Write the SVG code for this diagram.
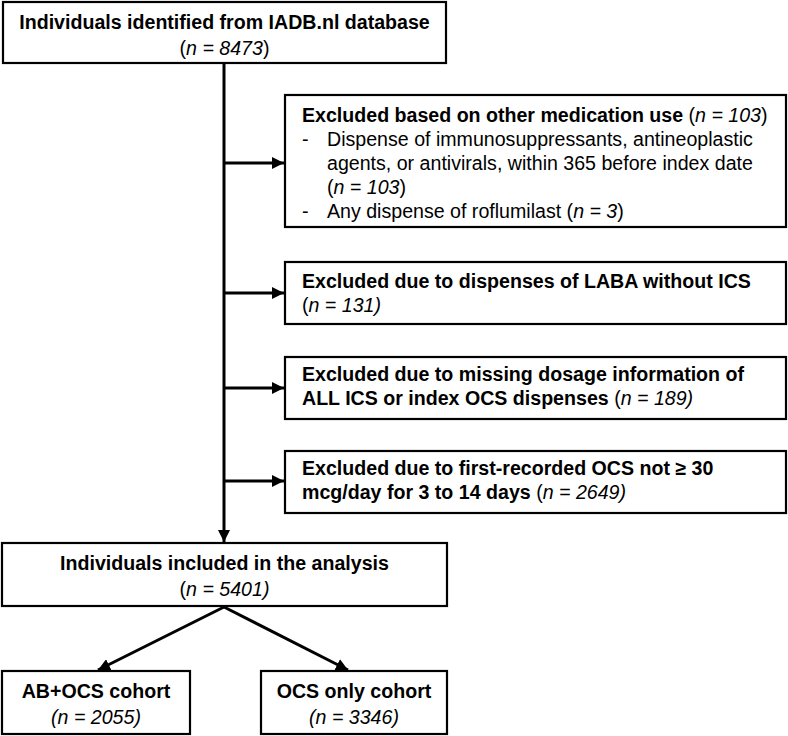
<svg xmlns="http://www.w3.org/2000/svg" width="788" height="736" viewBox="0 0 788 736">
<style>
.box{fill:#fff;stroke:#000;stroke-width:2.2}
.t{font-family:"Liberation Sans",Arial,sans-serif;font-size:19.6px;fill:#000}
.b{font-weight:bold}
.i{font-style:italic}
.c{text-anchor:middle}
.ln{stroke:#000;stroke-width:3;fill:none}
</style>
<defs>
<marker id="ah" viewBox="0 0 10 10" refX="10" refY="5" markerWidth="4" markerHeight="4" markerUnits="strokeWidth" orient="auto">
<path d="M0,0 L10,5 L0,10 Z" fill="#000"/>
</marker>
</defs>
<rect width="788" height="736" fill="#fff"/>
<g id="connectors">
<line class="ln" x1="224" y1="63" x2="224" y2="542" marker-end="url(#ah)"/>
<line class="ln" x1="224" y1="163" x2="284" y2="163" marker-end="url(#ah)"/>
<line class="ln" x1="224" y1="293" x2="284" y2="293" marker-end="url(#ah)"/>
<line class="ln" x1="224" y1="388" x2="284" y2="388" marker-end="url(#ah)"/>
<line class="ln" x1="224" y1="481" x2="284" y2="481" marker-end="url(#ah)"/>
<line class="ln" x1="224" y1="607" x2="98" y2="670" marker-end="url(#ah)"/>
<line class="ln" x1="224" y1="607" x2="348" y2="670" marker-end="url(#ah)"/>
</g>
<g id="n_identified">
<rect class="box" x="3" y="2" width="443" height="61"/>
<text class="t b c" x="224.5" y="29">Individuals identified from IADB.nl database</text>
<text class="t c" x="224.5" y="55">(<tspan class="i">n = 8473</tspan>)</text>
</g>
<g id="n_excl_medication">
<rect class="box" x="285" y="95" width="501" height="132"/>
<text class="t" x="302" y="122"><tspan class="b">Excluded based on other medication use</tspan> (<tspan class="i">n = 103</tspan>)</text>
<text class="t" x="302" y="146">-</text>
<text class="t" x="327" y="146">Dispense of immunosuppressants, antineoplastic</text>
<text class="t" x="327" y="170">agents, or antivirals, within 365 before index date</text>
<text class="t" x="327" y="194">(<tspan class="i">n = 103</tspan>)</text>
<text class="t" x="302" y="218">-</text>
<text class="t" x="327" y="218">Any dispense of roflumilast (<tspan class="i">n = 3</tspan>)</text>
</g>
<g id="n_excl_laba">
<rect class="box" x="285" y="262" width="501" height="62"/>
<text class="t b" x="302" y="288">Excluded due to dispenses of LABA without ICS</text>
<text class="t" x="302" y="312">(<tspan class="i">n = 131)</tspan></text>
</g>
<g id="n_excl_dosage">
<rect class="box" x="285" y="357" width="501" height="62"/>
<text class="t b" x="302" y="381">Excluded due to missing dosage information of</text>
<text class="t" x="302" y="405"><tspan class="b">ALL ICS or index OCS dispenses</tspan> (<tspan class="i">n = 189)</tspan></text>
</g>
<g id="n_excl_ocs">
<rect class="box" x="285" y="451" width="501" height="62"/>
<text class="t b" x="302" y="475">Excluded due to first-recorded OCS not ≥ 30</text>
<text class="t" x="302" y="499"><tspan class="b">mcg/day for 3 to 14 days</tspan> (<tspan class="i">n = 2649)</tspan></text>
</g>
<g id="n_included">
<rect class="box" x="2" y="543" width="445" height="63"/>
<text class="t b c" x="224.5" y="570">Individuals included in the analysis</text>
<text class="t c" x="224.5" y="596">(<tspan class="i">n = 5401)</tspan></text>
</g>
<g id="n_ab_ocs">
<rect class="box" x="2" y="671" width="188" height="63"/>
<text class="t b c" x="96" y="698">AB+OCS cohort</text>
<text class="t i c" x="96" y="724">(n = 2055)</text>
</g>
<g id="n_ocs_only">
<rect class="box" x="261" y="671" width="186" height="63"/>
<text class="t b c" x="354" y="698">OCS only cohort</text>
<text class="t i c" x="354" y="724">(n = 3346)</text>
</g>
</svg>
